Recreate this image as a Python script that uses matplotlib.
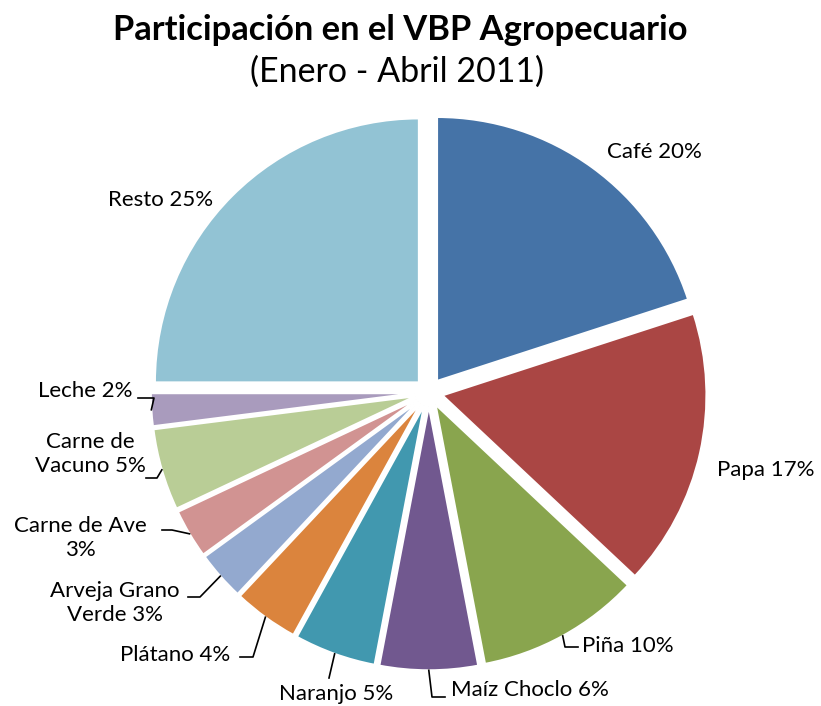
import matplotlib
matplotlib.use("Agg")
import matplotlib.pyplot as plt
import numpy as np

plt.rcParams['font.family'] = ['Lato', 'DejaVu Sans']

# data
labels = ["Café", "Papa", "Piña", "Maíz Choclo", "Naranjo", "Plátano",
          "Arveja Grano\nVerde", "Carne de Ave\n", "Carne de\nVacuno", "Leche", "Resto"]
shares = [20, 17, 10, 6, 5, 4, 3, 3, 5, 2, 25]
colors = ["#4573A7", "#AA4644", "#89A54E", "#71588F", "#4198AF", "#DB843D",
          "#93A9CF", "#D19392", "#B9CD96", "#A99BBD", "#92C3D4"]

# label layout in pixels from top-left: text position, leader elbow, leader end
W, H = 821, 706
label_xy = [(654, 152), (766, 470), (628, 646), (530, 690), (336, 694), (175, 655),
            (115, 603), (80, 538), (90, 454), (85, 391), (161, 200)]
elbows = [None, None, (565, 647), (432, 697), (329, 678), (253, 657),
          (200, 597), (172, 530), (157, 478), (154, 398), None]
ends = [None, None, (578, 647), (445, 697), None, (240, 657),
        (188, 597), (162, 530), (146, 478), (138, 398), None]

cx, cy, R, gap = 428.8, H - 392.3, 264, 14

fig = plt.figure(figsize=(W / 100, H / 100), dpi=100)
ax = fig.add_axes([0, 0, 1, 1])
ax.pie(shares, colors=colors, startangle=90, counterclock=False,
       explode=[gap] * len(shares), radius=R, center=(cx, cy),
       wedgeprops=dict(edgecolor="white", linewidth=1.5))
ax.set_xlim(0, W)
ax.set_ylim(0, H)
ax.set_aspect("equal")
ax.axis("off")

# leader lines and labels
theta = 90 - 360 * (np.cumsum(shares) - np.array(shares) / 2) / 100
for i, (lab, val) in enumerate(zip(labels, shares)):
    txt = lab.rstrip("\n") + (" " if not lab.endswith("\n") else "\n") + f"{val}%"
    tx, ty = label_xy[i]
    ax.text(tx, H - ty, txt, ha="center", va="center", fontsize=16,
            linespacing=1.2, color="black")
    if elbows[i] is not None:
        a = np.radians(theta[i])
        sx = cx + (R + gap) * np.cos(a)
        sy = cy + (R + gap) * np.sin(a)
        ex, ey = elbows[i]
        pts_x = [sx, ex]
        pts_y = [sy, H - ey]
        if ends[i] is not None:
            pts_x.append(ends[i][0])
            pts_y.append(H - ends[i][1])
        ax.plot(pts_x, pts_y, color="black", linewidth=1.2)

fig.text(400 / W, 1 - 30 / H, "Participación en el VBP Agropecuario", ha="center",
         va="center", fontsize=24.8, fontweight="bold")
fig.text(397 / W, 1 - 72 / H, "(Enero - Abril 2011)", ha="center", va="center",
         fontsize=24.5)

fig.savefig("out.png", dpi=100)
